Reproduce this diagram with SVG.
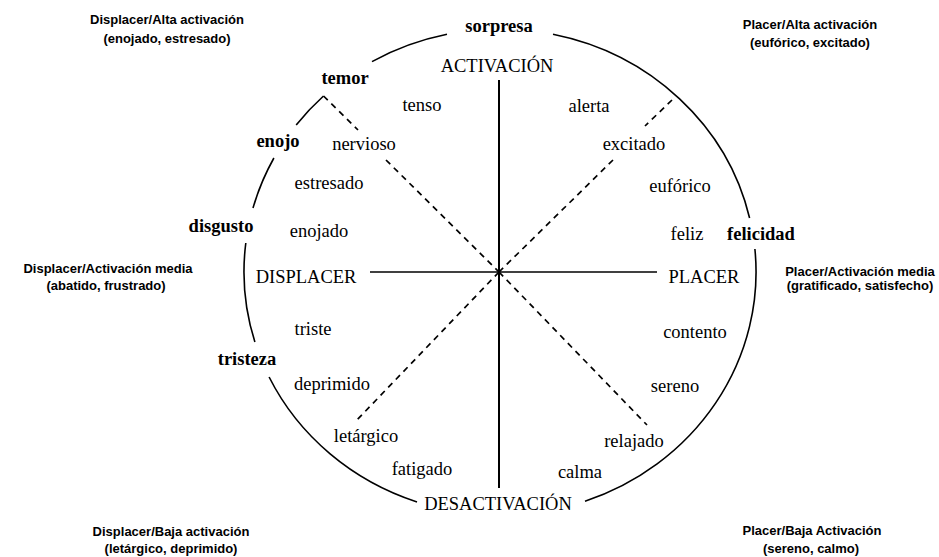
<svg xmlns="http://www.w3.org/2000/svg" width="939" height="557" viewBox="0 0 939 557">
<style>
.arc{fill:none;stroke:#000;stroke-width:1.6}
.axis{fill:none;stroke:#000;stroke-width:2}
.dash{fill:none;stroke:#000;stroke-width:1.7;stroke-dasharray:6 5}
.w{font-family:"Liberation Serif","Times New Roman",serif;font-size:18.5px;fill:#000;text-anchor:middle}
.b{font-family:"Liberation Serif","Times New Roman",serif;font-size:18.5px;font-weight:bold;fill:#000;text-anchor:middle}
.c{font-family:"Liberation Sans",Arial,sans-serif;font-size:13px;font-weight:bold;fill:#000;text-anchor:middle}
</style>
<rect width="939" height="557" fill="#fff"/>
<g id="connectors">
<path class="arc" d="M372,61.6 A256,243 0 0 1 447,34.3"/>
<path class="arc" d="M553,34.3 A256,243 0 0 1 749.6,218"/>
<path class="arc" d="M754.9,249 A256,243 0 0 1 585,501.2"/>
<path class="arc" d="M417,501.9 A256,243 0 0 1 269.1,377"/>
<path class="arc" d="M254.9,342 A256,243 0 0 1 245.8,243"/>
<path class="arc" d="M253,208 A256,243 0 0 1 273.9,158"/>
<path class="arc" d="M296.2,125 A256,243 0 0 1 323.5,96"/>
<line class="axis" x1="499" y1="80" x2="499" y2="488"/>
<line class="axis" x1="370" y1="272" x2="657" y2="272" style="stroke-width:1.6"/>
<line class="dash" x1="323.5" y1="96" x2="358" y2="130"/>
<line class="dash" x1="386" y1="160" x2="499" y2="272"/>
<line class="dash" x1="672" y1="100" x2="645" y2="126"/>
<line class="dash" x1="613" y1="160" x2="499" y2="272"/>
<line class="dash" x1="499" y1="272" x2="647" y2="425"/>
<line class="dash" x1="499" y1="272" x2="355" y2="422"/>
</g>
<g id="axis-labels">
<text id="activacion" class="w" x="497" y="72">ACTIVACIÓN</text>
<text id="desactivacion" class="w" x="498" y="510">DESACTIVACIÓN</text>
<text id="displacer" class="w" x="306" y="283">DISPLACER</text>
<text id="placer" class="w" x="704" y="283">PLACER</text>
</g>
<g id="emotions">
<text id="sorpresa" class="b" x="499" y="32">sorpresa</text>
<text id="temor" class="b" x="345" y="84">temor</text>
<text id="enojo" class="b" x="278" y="147">enojo</text>
<text id="disgusto" class="b" x="221" y="232">disgusto</text>
<text id="tristeza" class="b" x="247" y="365">tristeza</text>
<text id="felicidad" class="b" x="761" y="240">felicidad</text>
</g>
<g id="states">
<text class="w" x="422" y="111">tenso</text>
<text class="w" x="589" y="112">alerta</text>
<text class="w" x="364" y="150">nervioso</text>
<text class="w" x="634" y="150">excitado</text>
<text class="w" x="329" y="189">estresado</text>
<text class="w" x="680" y="192">eufórico</text>
<text class="w" x="319" y="237">enojado</text>
<text class="w" x="687" y="240">feliz</text>
<text class="w" x="313" y="335">triste</text>
<text class="w" x="695" y="338">contento</text>
<text class="w" x="332" y="390">deprimido</text>
<text class="w" x="675" y="392">sereno</text>
<text class="w" x="366" y="442">letárgico</text>
<text class="w" x="634" y="447">relajado</text>
<text class="w" x="422" y="475">fatigado</text>
<text class="w" x="580" y="478">calma</text>
</g>
<g id="quadrant-tl"><text class="c" x="167" y="24">Displacer/Alta activación</text><text class="c" x="167" y="43">(enojado, estresado)</text></g>
<g id="quadrant-tr"><text class="c" x="810" y="29">Placer/Alta activación</text><text class="c" x="810" y="47">(eufórico, excitado)</text></g>
<g id="quadrant-ml"><text class="c" x="108" y="273">Displacer/Activación media</text><text class="c" x="106" y="290">(abatido, frustrado)</text></g>
<g id="quadrant-mr"><text class="c" x="860" y="276">Placer/Activación media</text><text class="c" x="860" y="290">(gratificado, satisfecho)</text></g>
<g id="quadrant-bl"><text class="c" x="171" y="536">Displacer/Baja activación</text><text class="c" x="171" y="553">(letárgico, deprimido)</text></g>
<g id="quadrant-br"><text class="c" x="812" y="535">Placer/Baja Activación</text><text class="c" x="811" y="553">(sereno, calmo)</text></g>
</svg>
